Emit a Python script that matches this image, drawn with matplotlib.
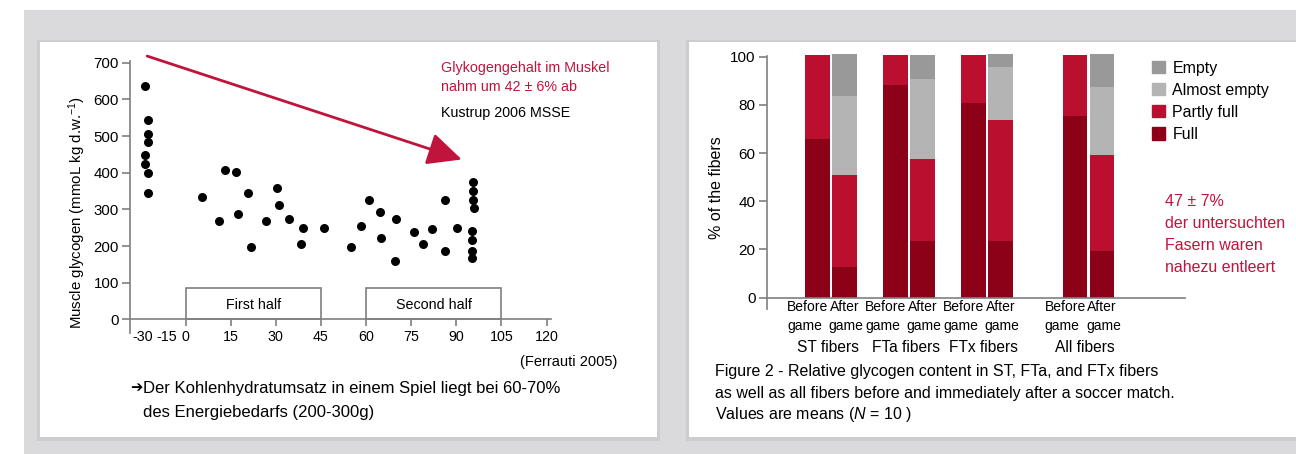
import matplotlib
matplotlib.use('Agg')
import matplotlib.pyplot as plt
from matplotlib.patches import Rectangle

W, H = 1296, 454
RED = '#c0143c'
GREY = '#7f7f7f'
C_FULL = '#8c0018'
C_PARTLY = '#bb0f2f'
C_ALMOST = '#b4b4b4'
C_EMPTY = '#999999'

plt.rcParams['font.family'] = ['Liberation Sans', 'DejaVu Sans']
plt.rcParams['mathtext.fontset'] = 'custom'
plt.rcParams['mathtext.rm'] = 'Liberation Sans'
plt.rcParams['mathtext.it'] = 'Liberation Sans:italic'

# ---- left chart: muscle glycogen during a match (Ferrauti 2005)
pre_time = [-30, -28, -28, -28, -30, -30, -28, -28]
pre_glyc = [636, 544, 505, 483, 448, 425, 400, 344]
game_time = [5.6, 11.1, 13.1, 16.6, 17.3, 20.8, 21.7, 26.7, 30.5, 31.0, 34.5,
             38.9, 38.4, 46.1, 55.0, 58.2, 61.0, 64.7, 64.8, 69.8, 69.5, 75.9,
             79.0, 81.9, 86.1, 86.1, 90.3]
game_glyc = [333, 268, 407, 401, 287, 344, 197, 268, 357, 311, 274,
             248, 205, 248, 196, 254, 325, 294, 223, 273, 160, 237,
             205, 247, 325, 186, 248]
post_time = [95.7, 95.7, 95.7, 95.9, 95.3, 95.3, 95.3, 95.3]
post_glyc = [375, 350, 325, 305, 242, 216, 186, 166]
halves = [('First half', 0, 45), ('Second half', 60, 105)]
x_ticks = [0, 15, 30, 45, 60, 75, 90, 105, 120]
pre_ticks = ['-30', '-15']
pre_tick_pos = [-31.5, -14]
y_ticks = [0, 100, 200, 300, 400, 500, 600, 700]
arrow_from = (-28.4, 718)
arrow_to = (91.8, 436)

# ---- right chart: fiber glycogen content
groups = ['ST fibers', 'FTa fibers', 'FTx fibers', 'All fibers']
group_pos = [0, 1, 2, 3.3]
full_before = [65.8, 88.2, 80.8, 75.4]
partly_before = [34.9, 12.5, 19.9, 25.3]
full_after = [12.7, 23.5, 23.5, 19.4]
partly_after = [38.2, 34.0, 50.2, 39.8]
almost_after = [32.8, 33.2, 22.0, 28.4]
empty_after = [17.4, 10.0, 5.4, 13.5]


def tx(t):
    # pre-game part of the time axis is compressed
    return t * 0.45 if t < 0 else t


def rect_px(l, t, r, b):
    return [l / W, 1 - b / H, (r - l) / W, (b - t) / H]


def ftext(x, y, s, **kw):
    return fig.text(x / W, 1 - y / H, s, **kw)


fig = plt.figure(figsize=(W / 100, H / 100), dpi=100)
fig.patch.set_facecolor('white')

# background frame and white panels
fig.patches.append(Rectangle((24 / W, 0), 1 - 24 / W, 1 - 10 / H, transform=fig.transFigure,
                             facecolor='#dadadc', edgecolor='none', zorder=-10))
for l, t, r, b in [(40, 42, 657, 437), (689, 42, 1296, 437)]:
    fig.patches.append(Rectangle(((l - 3) / W, 1 - (b + 4) / H), (r - l + 6) / W, (b - t + 6) / H,
                                 transform=fig.transFigure, facecolor='#cdcdcf',
                                 edgecolor='none', zorder=-9))
    fig.patches.append(Rectangle((l / W, 1 - b / H), (r - l) / W, (b - t) / H,
                                 transform=fig.transFigure, facecolor='white',
                                 edgecolor='none', zorder=-8))

# ================= left chart
ax = fig.add_axes(rect_px(130, 60.85, 551.1, 332.9))
ax.set_facecolor('none')
ax.set_xlim(-18.5, 121.5)
ax.set_ylim(-37, 705)

ax.scatter([tx(t) for t in pre_time], pre_glyc, s=30, color='black', zorder=3)
ax.scatter(game_time, game_glyc, s=30, color='black', zorder=3)
ax.scatter(post_time, post_glyc, s=30, color='black', zorder=3)

for name, a, b in halves:
    ax.add_patch(Rectangle((a, 0), b - a, 85, facecolor='none', edgecolor=GREY, lw=1.2))
    ax.text((a + b) / 2, 40, name, ha='center', va='center', fontsize=10.3)

ax.annotate('', xy=arrow_to, xytext=(tx(arrow_from[0]), arrow_from[1]),
            arrowprops=dict(arrowstyle='-|>,head_length=1.05,head_width=0.5',
                            color=RED, lw=2, mutation_scale=20,
                            shrinkA=0, shrinkB=0),
            annotation_clip=False)

for s in ['top', 'right']:
    ax.spines[s].set_visible(False)
ax.spines['bottom'].set_position(('data', 0))
for s in ['left', 'bottom']:
    ax.spines[s].set_color(GREY)
    ax.spines[s].set_linewidth(1.2)
ax.set_yticks(y_ticks)
ax.set_xticks(x_ticks)
ax.set_xticks([tx(t) for t in pre_tick_pos], labels=pre_ticks, minor=True)
ax.tick_params(axis='y', direction='out', length=6, width=1.2, color=GREY, labelsize=10.8, pad=2)
ax.tick_params(axis='x', which='major', direction='out', length=5, width=1.2, color=GREY,
               labelsize=10.3, pad=3)
ax.tick_params(axis='x', which='minor', length=0, labelsize=10.3, pad=8)

ftext(76.7, 213, r'Muscle glycogen (mmoL kg d.w.$^{-1}$)', rotation=90,
      ha='center', va='center', fontsize=10.8)
ftext(440.7, 71.7, 'Glykogengehalt im Muskel', color=RED, fontsize=10.3, va='baseline')
ftext(440.7, 91, 'nahm um 42 ± 6% ab', color=RED, fontsize=10.3, va='baseline')
ftext(440.7, 116.7, 'Kustrup 2006 MSSE', color='black', fontsize=10.3, va='baseline')
ftext(617.5, 362, '(Ferrauti 2005)', ha='right', va='center', fontsize=10.5)
ftext(130, 388, '➔', ha='left', va='center', fontsize=10.5, family=['DejaVu Sans'])
ftext(143, 388, 'Der Kohlenhydratumsatz in einem Spiel liegt bei 60-70%',
      ha='left', va='center', fontsize=12)
ftext(143, 412, 'des Energiebedarfs (200-300g)', ha='left', va='center', fontsize=12)

# ================= right chart
bx = fig.add_axes(rect_px(766.7, 53.1, 1185, 308.5))
bx.set_facecolor('none')
bx.set_xlim(-0.824, 4.54)
bx.set_ylim(-4.5, 101.5)

off, bw = 0.173, 0.314
xb = [g - off for g in group_pos]
xa = [g + off for g in group_pos]
bx.bar(xb, full_before, bw, color=C_FULL, zorder=2)
bx.bar(xb, partly_before, bw, bottom=full_before, color=C_PARTLY, zorder=2)
bx.bar(xa, full_after, bw, color=C_FULL, zorder=2)
b2 = [f + p for f, p in zip(full_after, partly_after)]
bx.bar(xa, partly_after, bw, bottom=full_after, color=C_PARTLY, zorder=2)
b3 = [v + a for v, a in zip(b2, almost_after)]
bx.bar(xa, almost_after, bw, bottom=b2, color=C_ALMOST, zorder=2)
bx.bar(xa, empty_after, bw, bottom=b3, color=C_EMPTY, zorder=2)

for s in ['top', 'right']:
    bx.spines[s].set_visible(False)
bx.spines['bottom'].set_position(('data', 0))
bx.spines['left'].set_bounds(-4.5, 100.4)
for s in ['left', 'bottom']:
    bx.spines[s].set_color(GREY)
    bx.spines[s].set_linewidth(1.2)
bx.set_xticks([])
bx.set_yticks([0, 20, 40, 60, 80, 100])
bx.tick_params(axis='y', direction='out', length=6, width=1.2, color=GREY, labelsize=11, pad=2)

for g, b, a, name in zip(group_pos, xb, xa, groups):
    bx.text(b - 0.39, -3.7, 'Before', ha='left', va='center', fontsize=10, clip_on=False)
    bx.text(b - 0.39, -11.6, 'game', ha='left', va='center', fontsize=10, clip_on=False)
    bx.text(a, -3.7, 'After', ha='center', va='center', fontsize=10, clip_on=False)
    bx.text(a + 0.02, -11.6, 'game', ha='center', va='center', fontsize=10, clip_on=False)
    bx.text(g - 0.04, -20.5, name, ha='center', va='center', fontsize=11.2, clip_on=False)

ftext(716.7, 188, '% of the fibers', rotation=90, ha='center', va='center', fontsize=11.5)

handles = [Rectangle((0, 0), 1, 1, color=c) for c in [C_EMPTY, C_ALMOST, C_PARTLY, C_FULL]]
fig.legend(handles, ['Empty', 'Almost empty', 'Partly full', 'Full'],
           loc='upper left', bbox_to_anchor=(1151.7 / W, 1 - 60.5 / H),
           frameon=False, fontsize=11.5, handlelength=0.85, handleheight=0.8,
           handletextpad=0.45, labelspacing=0.45, borderpad=0, borderaxespad=0)

for i, line in enumerate(['47 ± 7%', 'der untersuchten', 'Fasern waren', 'nahezu entleert']):
    ftext(1165, 205.7 + 22 * i, line, color=RED, fontsize=11.5, va='baseline')

ftext(715, 371.7, 'Figure 2 - Relative glycogen content in ST, FTa, and FTx fibers',
      va='center', fontsize=11.5)
ftext(715, 393.3, 'as well as all fibers before and immediately after a soccer match.',
      va='center', fontsize=11.5)
ftext(715, 415, r'Values are means ($\it{N}$ = 10 )', va='center', fontsize=11.5)

fig.savefig('out.png', dpi=100)
